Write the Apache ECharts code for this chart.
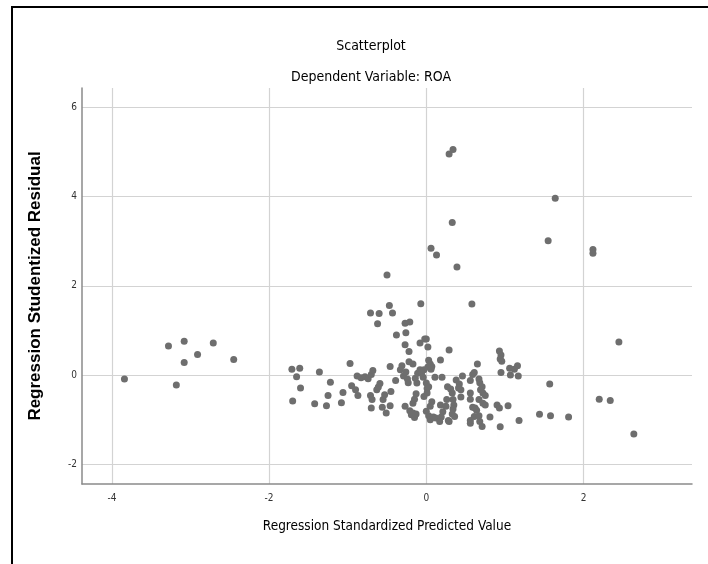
<!DOCTYPE html>
<html>
<head>
<meta charset="utf-8">
<title>Scatterplot</title>
<script src="https://cdn.jsdelivr.net/npm/echarts@6/dist/echarts.min.js"></script>
<style>
  html, body { margin: 0; padding: 0; background: #fff; }
  #chart { width: 708px; height: 564px; }
</style>
</head>
<body>
<div id="chart"></div>
<script>
// Regression Standardized Predicted Value (x)
const predicted = [
  // left group
  -3.84, -3.28, -3.08, -3.08, -3.18, -2.91, -2.71, -2.45,
  -1.71, -1.61, -1.65, -1.60, -1.70, -1.36, -1.42, -1.22, -1.25, -1.27,
  -1.06, -1.08, -0.97, -0.95, -0.88, -0.83, -0.78, -0.74, -0.70, -0.68,
  -0.90, -0.87,
  // upper middle
  -0.71, -0.60, -0.62, -0.47, -0.43, -0.38, -0.27, -0.21, -0.26, -0.27,
  -0.22, -0.08, -0.07, -0.02, -0.46,
  // middle-left cluster
  -0.71, -0.69, -0.70, -0.63, -0.61, -0.59, -0.55, -0.53, -0.56, -0.51,
  -0.46, -0.45, -0.39, -0.33, -0.31, -0.29, -0.26, -0.24, -0.23, -0.22,
  -0.17, -0.27, -0.21, -0.19, -0.15, -0.17, -0.13, -0.17, -0.15, -0.13,
  -0.12, -0.14, -0.11, -0.08,
  // middle-right cluster
  0.58, 0.00, 0.02, 0.29, 0.18, 0.03, 0.05, 0.02, -0.03, -0.06,
  0.06, 0.07, -0.04, 0.00, 0.01, 0.01, -0.03, 0.03, 0.11, 0.20,
  0.07, 0.05, 0.00, 0.03, 0.05, 0.09, 0.12, 0.18, 0.21, 0.19,
  0.17, 0.26, 0.25, 0.28, 0.29, 0.27, 0.31, 0.33, 0.34, 0.35,
  0.34, 0.33, 0.36, 0.38, 0.42, 0.46, 0.44, 0.41, 0.44, 0.56,
  0.59, 0.61, 0.65, 0.67, 0.68, 0.71, 0.69, 0.72, 0.75, 0.67,
  0.72, 0.56, 0.56, 0.59, 0.62, 0.64, 0.61, 0.67, 0.56, 0.68,
  0.71, 0.56, 0.75, 0.81, 0.90, 0.93, 0.94, 1.04, 0.93, 0.95,
  0.94, 0.96, 0.95, 1.06, 1.07, 1.12, 1.16, 1.17, 1.57, 1.18,
  1.44, 1.58, 1.81,
  // right side
  2.45, 2.20, 2.34, 2.64,
  // high residuals
  0.29, 0.34, 0.33, 0.06, 0.13, 0.39, -0.50, 1.55, 1.64, 2.12, 2.12
];

// Regression Studentized Residual (y)
const residual = [
  // left group
  -0.09, 0.65, 0.76, 0.28, -0.22, 0.46, 0.72, 0.35,
  0.13, 0.15, -0.04, -0.29, -0.58, 0.07, -0.64, -0.16, -0.46, -0.69,
  -0.39, -0.62, 0.26, -0.24, -0.02, -0.06, -0.04, -0.08, 0.01, 0.10,
  -0.33, -0.46,
  // upper middle
  1.39, 1.38, 1.15, 1.56, 1.39, 0.90, 1.16, 1.19, 0.95, 0.68,
  0.53, 0.72, 1.60, 0.81, 0.19,
  // middle-left cluster
  -0.46, -0.55, -0.74, -0.33, -0.27, -0.19, -0.55, -0.44, -0.72, -0.85,
  -0.69, -0.37, -0.12, 0.12, 0.21, -0.02, 0.07, -0.09, -0.17, 0.30,
  0.25, -0.70, -0.80, -0.89, -0.95, -0.85, -0.87, -0.63, -0.54, -0.42,
  -0.18, -0.07, 0.04, 0.12,
  // middle-right cluster
  1.59, 0.81, 0.63, 0.56, 0.34, 0.33, 0.25, 0.18, 0.12, 0.06,
  0.13, 0.19, -0.05, -0.18, -0.30, -0.40, -0.48, -0.26, -0.05, -0.05,
  -0.60, -0.70, -0.81, -0.91, -1.00, -0.94, -0.96, -0.67, -0.82, -0.94,
  -1.04, -0.55, -0.70, -1.02, -1.04, -0.26, -0.31, -0.40, -0.55, -0.67,
  -0.76, -0.87, -0.93, -0.11, -0.20, -0.02, -0.33, -0.29, -0.49, -0.12,
  0.01, 0.06, 0.25, -0.09, -0.17, -0.26, -0.33, -0.40, -0.46, -0.55,
  -0.63, -0.40, -0.54, -0.72, -0.74, -0.79, -0.93, -0.91, -1.02, -1.04,
  -1.15, -1.08, -0.67, -0.94, -0.67, -0.74, -1.16, -0.69, 0.54, 0.45,
  0.36, 0.31, 0.06, 0.15, 0.00, 0.13, 0.21, -0.02, -0.20, -1.02,
  -0.88, -0.91, -0.94,
  // right side
  0.74, -0.54, -0.57, -1.32,
  // high residuals
  4.95, 5.05, 3.42, 2.84, 2.69, 2.42, 2.24, 3.01, 3.96, 2.81, 2.73
];

// tick labels
const xTicks = [-4, -2, 0, 2];
const yTicks = [-2, 0, 2, 4, 6];

const narrowFont = "'Liberation Sans Narrow', 'Arial Narrow', 'DejaVu Sans Condensed', sans-serif";

const points = predicted.map((x, i) => [x, residual[i]]);

const chart = echarts.init(document.getElementById('chart'));

const option = {
  backgroundColor: '#fff',
  animation: false,
  title: [
    {
      text: 'Scatterplot',
      left: 366,
      top: 34,
      textAlign: 'center',
      textStyle: { fontFamily: narrowFont, fontSize: 14, fontWeight: 'normal', color: '#000' }
    },
    {
      text: 'Dependent Variable: ROA',
      left: 366,
      top: 65,
      textAlign: 'center',
      textStyle: { fontFamily: narrowFont, fontSize: 14, fontWeight: 'normal', color: '#000' }
    }
  ],
  grid: {
    left: 82,
    right: 16,
    top: 88,
    bottom: 80
  },
  xAxis: {
    type: 'value',
    min: -4.38,
    max: 3.38,
    name: 'Regression Standardized Predicted Value',
    nameLocation: 'middle',
    nameGap: 35,
    nameTextStyle: { fontFamily: narrowFont, fontSize: 13.5, fontWeight: 'normal', color: '#000', verticalAlign: 'top' },
    axisLine: { onZero: false, lineStyle: { color: '#8a8a8a', width: 1.5 } },
    axisTick: { show: false, customValues: xTicks },
    axisLabel: {
      customValues: xTicks,
      margin: 9,
      fontFamily: narrowFont,
      fontSize: 10,
      color: '#333',
      formatter: v => String(v)
    },
    splitLine: { show: true, lineStyle: { color: '#d3d3d3', width: 1.2 } }
  },
  yAxis: {
    type: 'value',
    min: -2.44,
    max: 6.43,
    name: 'Regression Studentized Residual',
    nameLocation: 'middle',
    nameGap: 38,
    nameTextStyle: { fontFamily: "'Liberation Sans', Arial, sans-serif", fontSize: 17, fontWeight: 'bold', color: '#000' },
    axisLine: { show: true, onZero: false, lineStyle: { color: '#8a8a8a', width: 1.5 } },
    axisTick: { show: false, customValues: yTicks },
    axisLabel: {
      customValues: yTicks,
      margin: 5,
      fontFamily: narrowFont,
      fontSize: 10,
      color: '#333',
      formatter: v => String(v)
    },
    splitLine: { show: true, lineStyle: { color: '#d3d3d3', width: 1.2 } }
  },
  series: [{
    type: 'scatter',
    data: points,
    symbol: 'circle',
    symbolSize: 7,
    itemStyle: { color: '#6e6e6e', opacity: 1 }
  }],
  graphic: [{
    type: 'polyline',
    shape: { points: [[12, 564], [12, 7], [708, 7]] },
    style: { stroke: '#000', lineWidth: 2, fill: null }
  }]
};

chart.setOption(option);
</script>
</body>
</html>
